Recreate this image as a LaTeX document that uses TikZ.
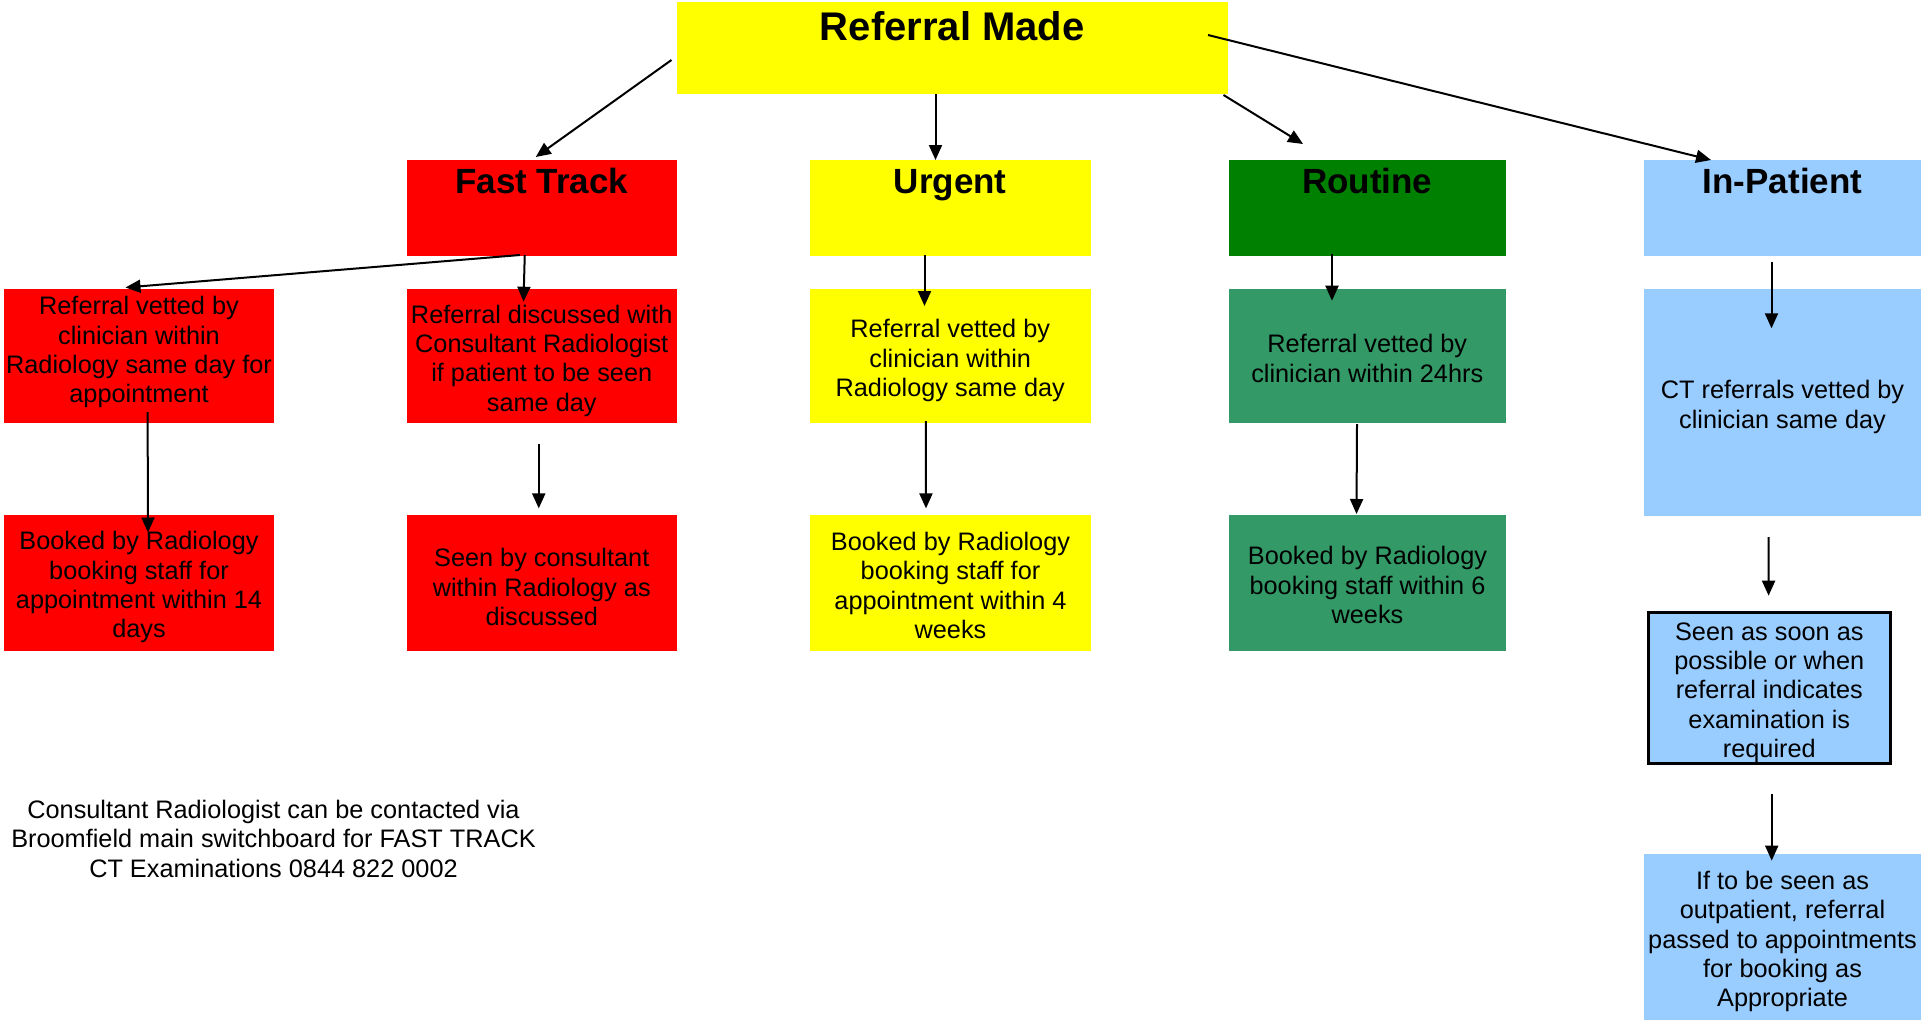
\documentclass[tikz,border=0pt]{standalone}
\usepackage{fontspec}
\setmainfont{Liberation Sans}
\usetikzlibrary{arrows.meta,calc}
\definecolor{cRed}{HTML}{FF0000}
\definecolor{cYel}{HTML}{FFFF00}
\definecolor{cGrn}{HTML}{008000}
\definecolor{cSea}{HTML}{339966}
\definecolor{cBlu}{HTML}{99CCFF}
\newcommand\tpad{\rule{0pt}{27.5pt}}
\newcommand\npad{\rule{0pt}{23.5pt}}
\newcommand\upad{\rule[-12.7pt]{0pt}{0pt}}
\begin{document}
\begin{tikzpicture}[x=1pt,y=-1pt,
  box/.style={rectangle, inner sep=0pt, outer sep=0pt, align=center,
    font=\fontsize{25.3}{29.4}\selectfont},
  ttl/.style={rectangle, inner sep=0pt, outer sep=0pt, anchor=north,
    font=\bfseries\fontsize{35}{40}\selectfont, text height=33.5pt, text depth=62.5pt},
  arr/.style={line width=2pt, -{Triangle[length=15pt,width=13pt]}}
]
\useasboundingbox (0,0) rectangle (1921,1020);

% top
\node[ttl, fill=cYel, minimum width=551.5pt, text height=38pt, text depth=54pt,
  font=\bfseries\fontsize{40}{46}\selectfont] (rm) at (952.25,2) {Referral Made};

% categories
\node[ttl, fill=cRed, minimum width=269.5pt] (ft)  at (541.75,160) {Fast Track};
\node[ttl, fill=cYel, minimum width=280.5pt] (urg) at (950.25,160) {Urgent};
\node[ttl, fill=cGrn, minimum width=276.5pt] (rou) at (1367.25,160) {Routine};
\node[ttl, fill=cBlu, minimum width=277pt]   (inp) at (1782.5,160) {In-Patient};

% row 2
\node[box, fill=cRed, minimum width=270pt, minimum height=134pt] (ft1) at (139,356)
  {Referral vetted by\\clinician within\\Radiology same day for\\appointment\upad};
\node[box, fill=cRed, minimum width=269.5pt, minimum height=134pt] (ft2) at (541.75,356)
  {\tpad Referral discussed with\\Consultant Radiologist\\if patient to be seen\\same day};
\node[box, fill=cYel, minimum width=280.5pt, minimum height=134pt] (u2) at (950.25,356)
  {\tpad Referral vetted by\\clinician within\\Radiology same day};
\node[box, fill=cSea, minimum width=276.5pt, minimum height=134pt] (r2) at (1367.25,356)
  {\npad Referral vetted by\\clinician within 24hrs};
\node[box, fill=cBlu, minimum width=277pt, minimum height=226.5pt] (ip2) at (1782.5,402.25)
  {\tpad CT referrals vetted by\\clinician same day};

% row 3
\node[box, fill=cRed, minimum width=270pt, minimum height=135.5pt] (ft3) at (139,582.75)
  {\tpad Booked by Radiology\\booking staff for\\appointment within 14\\days};
\node[box, fill=cRed, minimum width=269.5pt, minimum height=135.5pt] (ft4) at (541.75,582.75)
  {\tpad Seen by consultant\\within Radiology as\\discussed};
\node[box, fill=cYel, minimum width=281pt, minimum height=135.5pt] (u3) at (950.5,582.75)
  {\npad Booked by Radiology\\booking staff for\\appointment within 4\\weeks};
\node[box, fill=cSea, minimum width=277pt, minimum height=135.5pt] (r3) at (1367.5,582.75)
  {\npad Booked by Radiology\\booking staff within 6\\weeks};

% in-patient column
\node[box, fill=cBlu, draw=black, line width=3pt, minimum width=242.4pt, minimum height=148pt]
  (ip3) at (1769.3,687.85)
  {\tpad Seen as soon as\\possible or when\\referral indicates\\examination is\\required};
\node[box, fill=cBlu, minimum width=277pt, minimum height=166pt] (ip4) at (1782.5,937)
  {\tpad If to be seen as\\outpatient, referral\\passed to appointments\\for booking as\\Appropriate};

% note
\node[box] (note) at (273.5,836)
  {\npad Consultant Radiologist can be contacted via\\Broomfield main switchboard for FAST TRACK\\CT Examinations 0844 822 0002};

% connectors
\draw[arr] ($(rm.west)+(-5,12)$) -- ($(ft.north)+(-6,-3)$);
\draw[arr] ($(rm.south)+(-16.75,0)$) -- ($(urg.north)+(-14.75,0)$);
\draw[arr] ($(rm.south east)+(-4.5,1)$) -- ($(rou.north)+(-64.25,-16)$);
\draw[arr] ($(rm.east)+(-20,-13)$) -- ($(inp.north)+(-71.5,0)$);

\draw[arr] ($(ft.south)+(-21.75,-1)$) -- ($(ft1.north)+(-13.5,-1.5)$);
\draw[arr] ($(ft.south)+(-17,-1)$) -- ($(ft2.north)+(-18.25,12.7)$);
\draw[arr] ($(ft1.south)+(8.6,-11)$) -- ($(ft3.north)+(9,17.5)$);
\draw[arr] ($(ft2.south)+(-3,21.4)$) -- ($(ft4.north)+(-3,-6.6)$);

\draw[arr] ($(urg.south)+(-25.75,-1)$) -- ($(u2.north)+(-25.75,17)$);
\draw[arr] ($(u2.south)+(-24.5,-2)$) -- ($(u3.north)+(-24.5,-6.6)$);

\draw[arr] ($(rou.south)+(-35.25,-2)$) -- ($(r2.north)+(-35.25,11.7)$);
\draw[arr] ($(r2.south)+(-10.25,1)$) -- ($(r3.north)+(-11,-1)$);

\draw[arr] ($(inp.south)+(-11,5.7)$) -- ($(ip2.north)+(-11,39.3)$);
\draw[arr] ($(ip2.south)+(-14,21.5)$) -- ($(ip3.north)+(-0.7,-17)$);
\draw[arr] ($(ip3.south)+(2.4,30.8)$) -- ($(ip4.north)+(-10.8,6.6)$);
\end{tikzpicture}
\end{document}
